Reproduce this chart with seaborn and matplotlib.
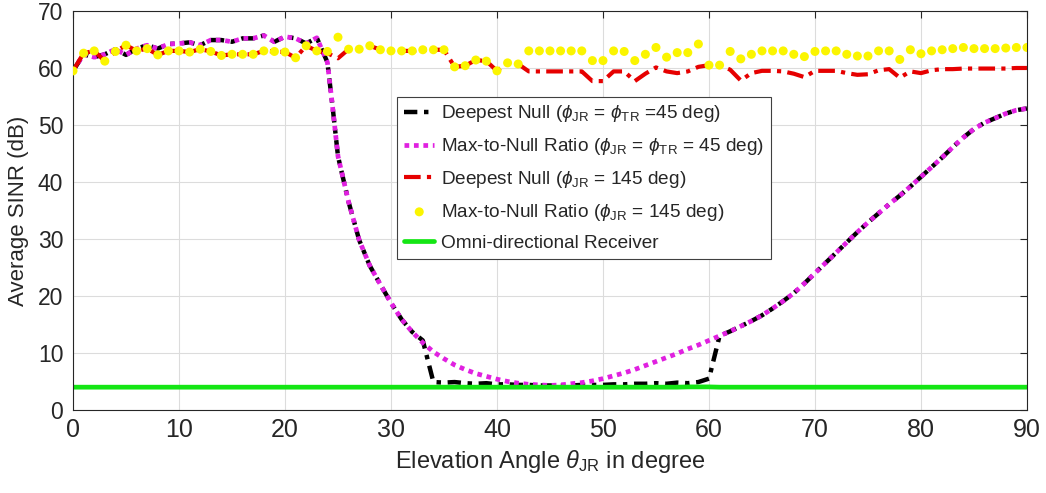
import matplotlib
matplotlib.use("Agg")
import matplotlib.pyplot as plt
import seaborn as sns
import numpy as np

# ---------------- data ----------------
theta = list(range(0, 91))
theta45 = list(range(0, 25)) + [24.5] + list(range(25, 91))

mnr45 = [59.5, 62.4, 61.9, 62.4, 63.3, 62.3, 63.4, 64.0, 63.4, 64.2,
         64.3, 64.5, 64.0, 64.9, 64.9, 64.6, 65.2, 65.2, 65.7, 64.6,
         65.5, 65.2, 64.3, 65.3, 61.0, 53.0,
         44.5, 36.5, 29.8, 25.3, 22.0, 18.8, 15.9, 13.7, 11.8, 10.2,
         9.0, 7.9, 7.1, 6.4, 5.9, 5.4, 5.0, 4.7, 4.5, 4.4,
         4.3, 4.4, 4.6, 4.8, 5.1, 5.5, 6.0, 6.5, 7.1, 7.8,
         8.5, 9.2, 9.9, 10.7, 11.4, 12.2, 13.0, 13.8, 14.7, 15.6,
         16.6, 17.8, 19.1, 20.5, 22.2, 24.0, 25.8, 27.6, 29.4, 31.2,
         32.9, 34.5, 36.1, 37.6, 39.2, 40.9, 42.6, 44.3, 46.1, 47.8,
         49.3, 50.4, 51.2, 52.0, 52.6, 52.9]

dn45 = [59.5, 62.4, 61.9, 62.4, 63.3, 62.3, 63.4, 64.0, 63.4, 64.2,
        64.3, 64.5, 64.0, 64.9, 64.9, 64.6, 65.2, 65.2, 65.7, 64.6,
        65.5, 65.2, 64.3, 65.3, 61.0, 53.0,
        44.5, 36.5, 29.8, 25.3, 22.0, 18.8, 15.9, 13.7, 12.2, 4.9,
        4.8, 4.9, 4.7, 4.6, 4.7, 4.5, 4.5, 4.4, 4.4, 4.3,
        4.3, 4.3, 4.3, 4.4, 4.4, 4.4, 4.5, 4.5, 4.6, 4.6,
        4.7, 4.6, 4.8, 4.7, 4.9, 5.5, 13.0, 13.8, 14.7, 15.6,
        16.6, 17.8, 19.1, 20.5, 22.2, 24.0, 25.8, 27.6, 29.4, 31.2,
        32.9, 34.5, 36.1, 37.6, 39.2, 40.9, 42.6, 44.3, 46.1, 47.8,
        49.3, 50.4, 51.2, 52.0, 52.6, 52.9]

mnr145 = [59.5, 62.6, 63.0, 61.2, 62.9, 64.0, 63.0, 63.4, 62.3, 63.0,
          63.0, 62.8, 63.3, 62.9, 62.2, 62.4, 62.4, 62.4, 63.0, 62.9,
          62.8, 61.8, 63.9, 63.0, 62.9, 65.4, 63.3, 63.3, 63.9, 63.2,
          63.0, 63.0, 63.0, 63.2, 63.2, 63.2, 60.2, 60.4, 61.4, 61.2,
          59.5, 60.9, 60.7, 63.0, 63.0, 63.0, 63.0, 63.0, 63.0, 61.3,
          61.3, 63.0, 62.9, 61.3, 62.4, 63.6, 61.9, 62.7, 62.7, 64.2,
          60.5, 60.5, 62.9, 61.6, 62.4, 63.0, 63.0, 63.0, 62.4, 62.0,
          62.9, 63.0, 63.0, 62.4, 62.1, 62.1, 63.0, 63.0, 61.5, 63.2,
          62.5, 63.0, 63.2, 63.4, 63.6, 63.4, 63.4, 63.4, 63.5, 63.6,
          63.6]

dn145 = [59.5, 62.6, 63.0, 61.2, 62.9, 64.0, 63.0, 63.4, 62.3, 63.0,
         63.0, 62.8, 63.3, 62.9, 62.2, 62.4, 62.4, 62.4, 63.0, 62.9,
         62.8, 61.8, 63.9, 63.0, 62.6, 61.7, 63.3, 63.3, 63.9, 63.2,
         63.0, 63.0, 63.0, 63.2, 63.2, 63.2, 60.2, 60.4, 61.4, 61.2,
         59.5, 60.9, 60.7, 59.4, 59.4, 59.4, 59.4, 59.4, 59.4, 57.7,
         57.7, 59.4, 59.4, 57.7, 59.0, 60.1, 59.4, 59.1, 59.4, 60.2,
         60.5, 60.5, 59.7, 57.8, 59.1, 59.5, 59.5, 59.4, 59.0, 58.4,
         59.5, 59.5, 59.5, 59.1, 58.8, 58.9, 59.6, 59.8, 58.3, 59.4,
         59.1, 59.6, 59.8, 59.8, 59.9, 59.9, 59.9, 59.9, 59.9, 60.0,
         60.0]

omni = [4.0, 4.0, 4.0, 4.0, 4.0, 4.0, 4.0, 4.0, 4.0, 4.0,
        4.0, 4.0, 4.0, 4.0, 4.0, 4.0, 4.0, 4.0, 4.0, 4.0,
        4.0, 4.0, 4.0, 4.0, 4.0, 4.0, 4.0, 4.0, 4.0, 4.0,
        4.0, 4.0, 4.0, 4.0, 4.0, 4.0, 4.0, 4.0, 4.0, 4.0,
        4.0, 4.0, 4.0, 4.0, 4.0, 4.0, 4.0, 4.0, 4.0, 4.0,
        4.0, 4.0, 4.0, 4.0, 4.0, 4.0, 4.0, 4.0, 4.05, 4.05,
        4.05, 4.0, 4.0, 4.0, 4.0, 4.0, 4.0, 4.0, 4.0, 4.0,
        4.0, 4.0, 4.0, 4.0, 4.0, 4.0, 4.0, 4.0, 4.0, 4.0,
        4.0, 4.0, 4.0, 4.0, 4.0, 4.0, 4.0, 4.0, 4.0, 4.0,
        4.0]

labels = [
    r"Deepest Null ($\phi_{\mathrm{JR}}$ = $\phi_{\mathrm{TR}}$ =45 deg)",
    r"Max-to-Null Ratio ($\phi_{\mathrm{JR}}$ = $\phi_{\mathrm{TR}}$ = 45 deg)",
    r"Deepest Null ($\phi_{\mathrm{JR}}$ = 145 deg)",
    r"Max-to-Null Ratio ($\phi_{\mathrm{JR}}$ = 145 deg)",
    "Omni-directional Receiver",
]
x_ticks = [0, 10, 20, 30, 40, 50, 60, 70, 80, 90]
y_ticks = [0, 10, 20, 30, 40, 50, 60, 70]

# ---------------- style ----------------
sns.set_style("white")
plt.rcParams["font.family"] = ["Liberation Sans", "DejaVu Sans"]
plt.rcParams["mathtext.fontset"] = "custom"
plt.rcParams["mathtext.rm"] = "Liberation Sans"
plt.rcParams["mathtext.it"] = "Liberation Sans:italic"

fig = plt.figure(figsize=(10.46, 4.93), dpi=100)
ax = fig.add_axes([0.0698, 0.1684, 0.9120, 0.8093])

sns.lineplot(x=theta45, y=dn45, ax=ax, color="#000000", lw=3.2,
             linestyle=(0, (3, 1.5, 1, 1.5)), label=labels[0], sort=False)
sns.lineplot(x=theta45, y=mnr45, ax=ax, color="#e020e0", lw=3.4,
             linestyle=(0, (1, 1)), label=labels[1], sort=False)
sns.lineplot(x=theta, y=dn145, ax=ax, color="#e60000", lw=3.0,
             linestyle=(0, (4, 1.5, 1, 1.5)), label=labels[2], sort=False)
sns.scatterplot(x=theta, y=mnr145, ax=ax, color="#fbf500", s=42,
                edgecolor="none", label=labels[3], zorder=3)
sns.lineplot(x=theta, y=omni, ax=ax, color="#14e614", lw=3.4,
             linestyle="-", label=labels[4], sort=False)

for ln in ax.get_lines():
    ln.set_dash_capstyle("butt")

ax.set_xlim(0, 90)
ax.set_ylim(0, 70)
ax.set_xticks(x_ticks)
ax.set_yticks(y_ticks)
ax.grid(True, color="#dcdcdc", lw=0.8)
ax.set_axisbelow(True)
ax.tick_params(direction="in", top=True, right=True, length=5, width=0.8,
               colors="#262626", labelcolor="#262626")
for lab in ax.get_yticklabels():
    lab.set_fontsize(16.5)
for lab in ax.get_xticklabels():
    lab.set_fontsize(18)
ax.tick_params(axis="y", pad=7)
ax.tick_params(axis="x", pad=6)
for s in ax.spines.values():
    s.set_color("#262626")
    s.set_linewidth(0.8)

ax.set_ylabel("Average SINR (dB)", fontsize=16, color="#262626", labelpad=6)
ax.set_xlabel(r"Elevation Angle $\theta_{\mathrm{JR}}$ in degree", fontsize=17,
              color="#262626", labelpad=4)

handles, labs = ax.get_legend_handles_labels()
order = [labs.index(l) for l in labels]
leg = ax.legend([handles[i] for i in order], [labs[i] for i in order],
                loc="upper left", bbox_to_anchor=(0.34, 0.785),
                fontsize=13.7, frameon=True, fancybox=False, framealpha=1,
                edgecolor="#404040", handlelength=1.6, handletextpad=0.35,
                labelspacing=0.62, borderpad=0.35, borderaxespad=0)
leg.get_frame().set_linewidth(0.8)

fig.savefig("out.png", dpi=100)
